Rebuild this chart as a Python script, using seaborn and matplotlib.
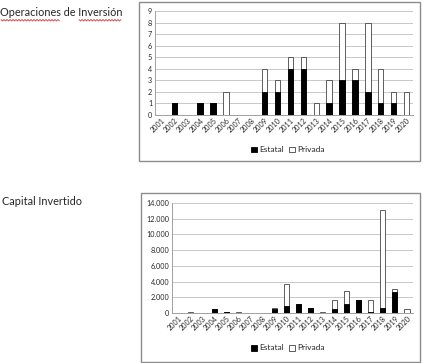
import numpy as np
import pandas as pd
import matplotlib
matplotlib.use("Agg")
import matplotlib.pyplot as plt
from matplotlib.patches import Rectangle, Patch
from matplotlib.lines import Line2D
from matplotlib.ticker import FuncFormatter
import seaborn as sns

years = [str(y) for y in range(2001, 2021)]

# Operaciones de Inversión (count)
ops_estatal = [0, 1, 0, 1, 1, 0, 0, 0, 2, 2, 4, 4, 0, 1, 3, 3, 2, 1, 1, 0]
ops_privada = [0, 0, 0, 0, 0, 2, 0, 0, 2, 1, 1, 1, 1, 2, 5, 1, 6, 3, 1, 2]

# Capital Invertido
cap_estatal = [0, 0, 0, 450, 100, 0, 0, 0, 550, 900, 1100, 700, 0, 450, 1150, 1650, 100, 700, 2700, 0]
cap_privada = [0, 80, 0, 0, 0, 80, 0, 0, 150, 2750, 100, 0, 150, 1150, 1600, 0, 1550, 12400, 300, 450]

sns.set_style("white")
plt.rcParams['font.family'] = ['Lato', 'DejaVu Sans']

W, H = 423, 363
fig = plt.figure(figsize=(W / 100, H / 100), dpi=100)


def fx(px):
    return px / W


def fy(py):
    return 1 - py / H


def draw_panel(rect_px, ax_px, estatal, privada, ymax, ystep, fmt, legend_y):
    x0, y0, x1, y1 = rect_px
    fig.patches.append(Rectangle((fx(x0), fy(y1)), fx(x1 - x0), (y1 - y0) / H,
                                 transform=fig.transFigure, fill=False,
                                 edgecolor='#8c8c8c', linewidth=1.0))
    ax_l, ax_t, ax_r, ax_b = ax_px
    ax = fig.add_axes([fx(ax_l), fy(ax_b), fx(ax_r - ax_l), (ax_b - ax_t) / H])
    df = pd.DataFrame({'year': years, 'Estatal': estatal, 'Privada': privada})
    df['total'] = df['Estatal'] + df['Privada']
    sns.barplot(data=df, x='year', y='total', color='white', edgecolor='#444444',
                linewidth=0.6, width=0.42, ax=ax, saturation=1)
    sns.barplot(data=df, x='year', y='Estatal', color='black', edgecolor='black',
                linewidth=0.6, width=0.42, ax=ax, saturation=1)
    ax.set_ylim(0, ymax)
    ax.set_yticks(np.arange(0, ymax + 1, ystep))
    ax.yaxis.set_major_formatter(FuncFormatter(fmt))
    ax.set_xlim(-0.5, len(years) - 0.5)
    ax.grid(axis='y', color='#c8c8c8', linewidth=0.7)
    ax.set_axisbelow(True)
    for s in ['top', 'right']:
        ax.spines[s].set_visible(False)
    ax.spines['left'].set_color('#a0a0a0')
    ax.spines['bottom'].set_color('#a0a0a0')
    ax.spines['left'].set_linewidth(0.7)
    ax.spines['bottom'].set_linewidth(0.7)
    ax.set_xlabel('')
    ax.set_ylabel('')
    ax.tick_params(axis='x', labelsize=5.2, rotation=45, length=0, pad=1.5)
    ax.tick_params(axis='y', labelsize=5.2, length=0, pad=2)
    for lbl in ax.get_xticklabels():
        lbl.set_ha('right')
        lbl.set_rotation_mode('anchor')
    handles = [Patch(facecolor='black', edgecolor='black', linewidth=0.6, label='Estatal'),
               Patch(facecolor='white', edgecolor='#444444', linewidth=0.6, label='Privada')]
    fig.legend(handles=handles, loc='center', bbox_to_anchor=(fx(288), fy(legend_y)),
               ncol=2, frameon=False, fontsize=6, handlelength=0.7, handleheight=0.7,
               handletextpad=0.3, columnspacing=0.6, borderpad=0)
    return ax


draw_panel((139, 2, 420, 161), (155, 11, 413, 115), ops_estatal, ops_privada,
           9, 1, lambda v, p: f"{int(v)}", 150)
draw_panel((141, 193, 420, 362), (172, 203, 413, 313), cap_estatal, cap_privada,
           14000, 2000, lambda v, p: f"{int(v):,}".replace(',', '.'), 348)

fig.text(fx(0), fy(13), "Operaciones de Inversión", fontsize=7.8, va='center', ha='left')
fig.text(fx(2), fy(201), "Capital Invertido", fontsize=7.8, va='center', ha='left')

# spell-check squiggles under the first title
for start, end in [(1, 59), (79, 121)]:
    xs = np.arange(start, end + 1, 1.5)
    ys = np.where(np.arange(len(xs)) % 2 == 0, 19.5, 21.0)
    fig.add_artist(Line2D(fx(xs), fy(ys), transform=fig.transFigure,
                          color='#e03030', linewidth=0.6))

fig.savefig("out.png", dpi=100)
